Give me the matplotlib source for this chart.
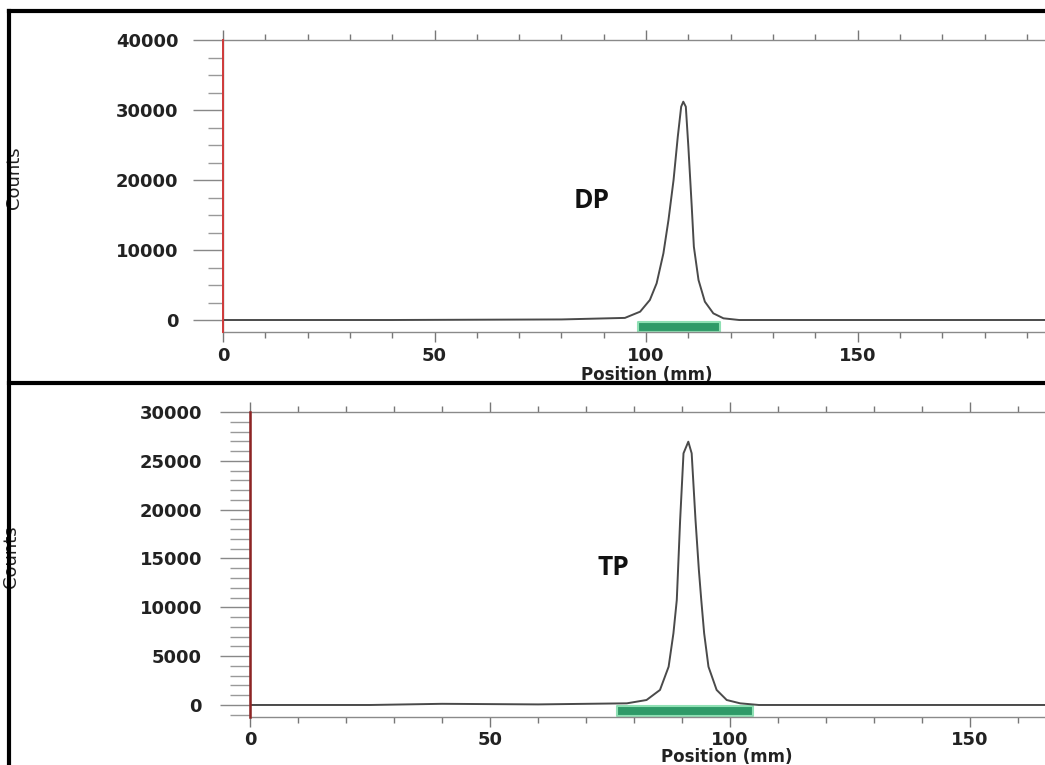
import matplotlib.pyplot as plt
from matplotlib.lines import Line2D
from matplotlib.ticker import MultipleLocator

# radio-TLC scan of DP: position (mm) vs counts
dp_pos = [0.0, 40.0, 80.0, 95.0, 98.6, 100.9, 102.5, 104.1, 105.3, 106.5, 107.5, 108.3,
          108.8, 109.4, 110.0, 110.8, 111.3, 112.4, 113.9, 115.9, 118.3, 122.0, 195.0]
dp_counts = [0, 0, 80, 300, 1190, 2860, 5240, 9520, 14290, 20000, 26190, 30470,
             31190, 30470, 24760, 16190, 10470, 5710, 2620, 950, 240, 0, 0]
dp_roi = [98.0, 117.5]

# radio-TLC scan of TP
tp_pos = [0.0, 25.0, 40.0, 60.0, 78.5, 82.6, 85.4, 87.2, 88.2, 88.9, 89.6, 90.3, 91.3,
          92.0, 92.8, 93.5, 94.0, 94.6, 95.5, 97.2, 99.3, 102.1, 106.0, 166.0]
tp_counts = [0, 0, 120, 60, 170, 510, 1540, 3920, 7340, 10750, 18950, 25770, 26960,
             25770, 18950, 13820, 10750, 7340, 3920, 1540, 510, 170, 0, 0]
tp_roi = [76.5, 104.8]

origin_mm = 0.0

W, H = 1045, 765
fig = plt.figure(figsize=(W / 100, H / 100), dpi=100)
fig.patch.set_facecolor('white')

label_font = ['Liberation Sans Narrow', 'DejaVu Sans']
peak_font = ['Open Sans', 'DejaVu Sans']


def setup(ax, xmax, ymin, ymax, ystep, yminor, minor_len, tick_pad, xpad):
    ax.set_xlim(0, xmax)
    ax.set_ylim(ymin, ymax)
    ax.spines['right'].set_visible(False)
    for s in ['left', 'top', 'bottom']:
        ax.spines[s].set_color('#8a8a8a')
        ax.spines[s].set_linewidth(1.0)
    ax.xaxis.set_major_locator(MultipleLocator(50))
    ax.xaxis.set_minor_locator(MultipleLocator(10))
    ax.yaxis.set_major_locator(MultipleLocator(ystep))
    ax.yaxis.set_minor_locator(MultipleLocator(yminor))
    ax.set_yticks([t for t in ax.get_yticks() if 0 <= t <= ymax])
    ax.tick_params(axis='x', which='both', direction='out', top=True, colors='#777777',
                   labelcolor='#222222')
    ax.tick_params(axis='x', which='major', length=7, width=1, pad=xpad)
    ax.tick_params(axis='x', which='minor', length=4, width=1)
    ax.tick_params(axis='y', which='major', direction='out', length=21.6, width=1,
                   pad=tick_pad, colors='#888888', labelcolor='#222222')
    ax.tick_params(axis='y', which='minor', direction='out', length=minor_len, width=1,
                   colors='#999999')
    for lab in ax.get_xticklabels() + ax.get_yticklabels():
        lab.set_family('DejaVu Sans')
        lab.set_weight('bold')
        lab.set_size(13)


# top panel: DP
ax_dp = fig.add_axes([223 / W, (H - 332) / H, 822 / W, 292 / H])
setup(ax_dp, 194.3, -1714, 40000, 10000, 2500, 10.8, 10.5, 4)
ax_dp.axvline(origin_mm, color='#d03a3a', lw=1.4, clip_on=False, zorder=4)
ax_dp.plot(dp_pos, dp_counts, color='#4a4a4a', lw=1.4, zorder=3)
ax_dp.fill_between(dp_roi, -1650, -250, facecolor='#2f9a68', edgecolor='#8fe0b4',
                   lw=1.5, zorder=2)
ax_dp.text(87.2, 17140, 'DP', family=peak_font, weight='bold', fontsize=19,
           ha='center', va='center', color='#111111')
ax_dp.set_xlabel('Position (mm)', family='DejaVu Sans', weight='bold', fontsize=12,
                 color='#222222')
ax_dp.xaxis.set_label_coords(0.516, -0.118)
ax_dp.set_ylabel('Counts', family=label_font, fontsize=13, color='#222222')
ax_dp.yaxis.set_label_coords(-0.243, 0.527)

# bottom panel: TP
ax_tp = fig.add_axes([250 / W, (H - 717) / H, 795 / W, 305 / H])
setup(ax_tp, 165.6, -1230, 30000, 5000, 1000, 14.4, 13, 3)
ax_tp.axvline(origin_mm, color='#8e2424', lw=1.8, clip_on=False, zorder=4)
ax_tp.plot(tp_pos, tp_counts, color='#4a4a4a', lw=1.4, zorder=3)
ax_tp.fill_between(tp_roi, -1150, -80, facecolor='#2f9a68', edgecolor='#8fe0b4',
                   lw=1.5, zorder=2)
ax_tp.text(75.6, 14030, 'TP', family=peak_font, weight='bold', fontsize=19,
           ha='center', va='center', color='#111111')
ax_tp.set_xlabel('Position (mm)', family='DejaVu Sans', weight='bold', fontsize=12,
                 color='#222222')
ax_tp.xaxis.set_label_coords(0.6, -0.103)
ax_tp.set_ylabel('Counts', family=label_font, fontsize=13, color='#222222')
ax_tp.yaxis.set_label_coords(-0.289, 0.525)

# black frame around both scans and the divider between them
x0 = 9 / W
y_top = (H - 11) / H
y_mid = (H - 383) / H
for xs, ys in [([x0, x0], [0, y_top]), ([x0, 1], [y_top, y_top]), ([x0, 1], [y_mid, y_mid])]:
    fig.add_artist(Line2D(xs, ys, color='black', lw=3, transform=fig.transFigure))

fig.savefig('out.png', dpi=100)
